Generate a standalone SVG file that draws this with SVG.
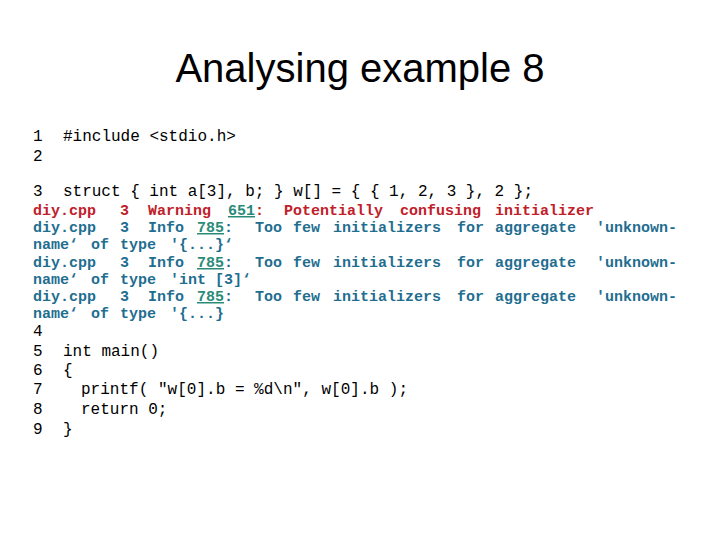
<svg xmlns="http://www.w3.org/2000/svg" width="720" height="540" viewBox="0 0 720 540">
<style>
text{font-family:"Liberation Mono","Courier New",monospace;font-size:16px;white-space:pre}
.k{fill:#000}
.r text{fill:#c0202a;font-weight:bold;font-size:15px}
.b text{fill:#1f6e90;font-weight:bold;font-size:15px}
.u{fill:#2a8a78;text-decoration:underline}
.t{font-family:"Liberation Sans",Arial,sans-serif;font-size:40px;fill:#000}
</style>
<rect width="720" height="540" fill="#fff"/>
<g id="title"><text class="t" x="360" y="82" text-anchor="middle">Analysing example 8</text></g>
<g id="code" class="k">
<text x="33" y="141">1</text><text x="63" y="141">#include &lt;stdio.h&gt;</text>
<text x="33" y="161">2</text>
<text x="33" y="196">3</text><text x="63" y="196" textLength="470" lengthAdjust="spacing">struct { int a[3], b; } w[] = { { 1, 2, 3 }, 2 };</text>
<text x="33" y="336">4</text>
<text x="33" y="356">5</text><text x="63" y="356">int main()</text>
<text x="33" y="375">6</text><text x="63" y="375">{</text>
<text x="33" y="394">7</text><text x="81" y="394" textLength="327" lengthAdjust="spacing">printf( "w[0].b = %d\n", w[0].b );</text>
<text x="33" y="414">8</text><text x="81" y="414">return 0;</text>
<text x="33" y="434">9</text><text x="63" y="434">}</text>
</g>
<g id="warning" class="r">
<text x="33" y="215">diy.cpp</text><text x="120" y="215">3</text><text x="148" y="215">Warning</text><text x="228" y="215"><tspan class="u">651</tspan>:</text><text x="284" y="215">Potentially</text><text x="400" y="215">confusing</text><text x="495" y="215">initializer</text>
</g>
<g id="info1" class="b">
<text x="33" y="232">diy.cpp</text><text x="120" y="232">3</text><text x="148" y="232">Info</text><text x="197" y="232"><tspan class="u">785</tspan>:</text><text x="255" y="232">Too</text><text x="293" y="232">few</text><text x="333" y="232">initializers</text><text x="457" y="232">for</text><text x="495" y="232">aggregate</text><text x="596" y="232">'unknown-</text>
<text x="33" y="249">name‘</text><text x="91" y="249">of</text><text x="120" y="249">type</text><text x="170" y="249">'{...}‘</text>
</g>
<g id="info2" class="b">
<text x="33" y="267">diy.cpp</text><text x="120" y="267">3</text><text x="148" y="267">Info</text><text x="197" y="267"><tspan class="u">785</tspan>:</text><text x="255" y="267">Too</text><text x="293" y="267">few</text><text x="333" y="267">initializers</text><text x="457" y="267">for</text><text x="495" y="267">aggregate</text><text x="596" y="267">'unknown-</text>
<text x="33" y="284">name‘</text><text x="91" y="284">of</text><text x="120" y="284">type</text><text x="170" y="284">'int [3]‘</text>
</g>
<g id="info3" class="b">
<text x="33" y="301">diy.cpp</text><text x="120" y="301">3</text><text x="148" y="301">Info</text><text x="197" y="301"><tspan class="u">785</tspan>:</text><text x="255" y="301">Too</text><text x="293" y="301">few</text><text x="333" y="301">initializers</text><text x="457" y="301">for</text><text x="495" y="301">aggregate</text><text x="596" y="301">'unknown-</text>
<text x="33" y="318">name‘</text><text x="91" y="318">of</text><text x="120" y="318">type</text><text x="170" y="318">'{...}</text>
</g>
</svg>
